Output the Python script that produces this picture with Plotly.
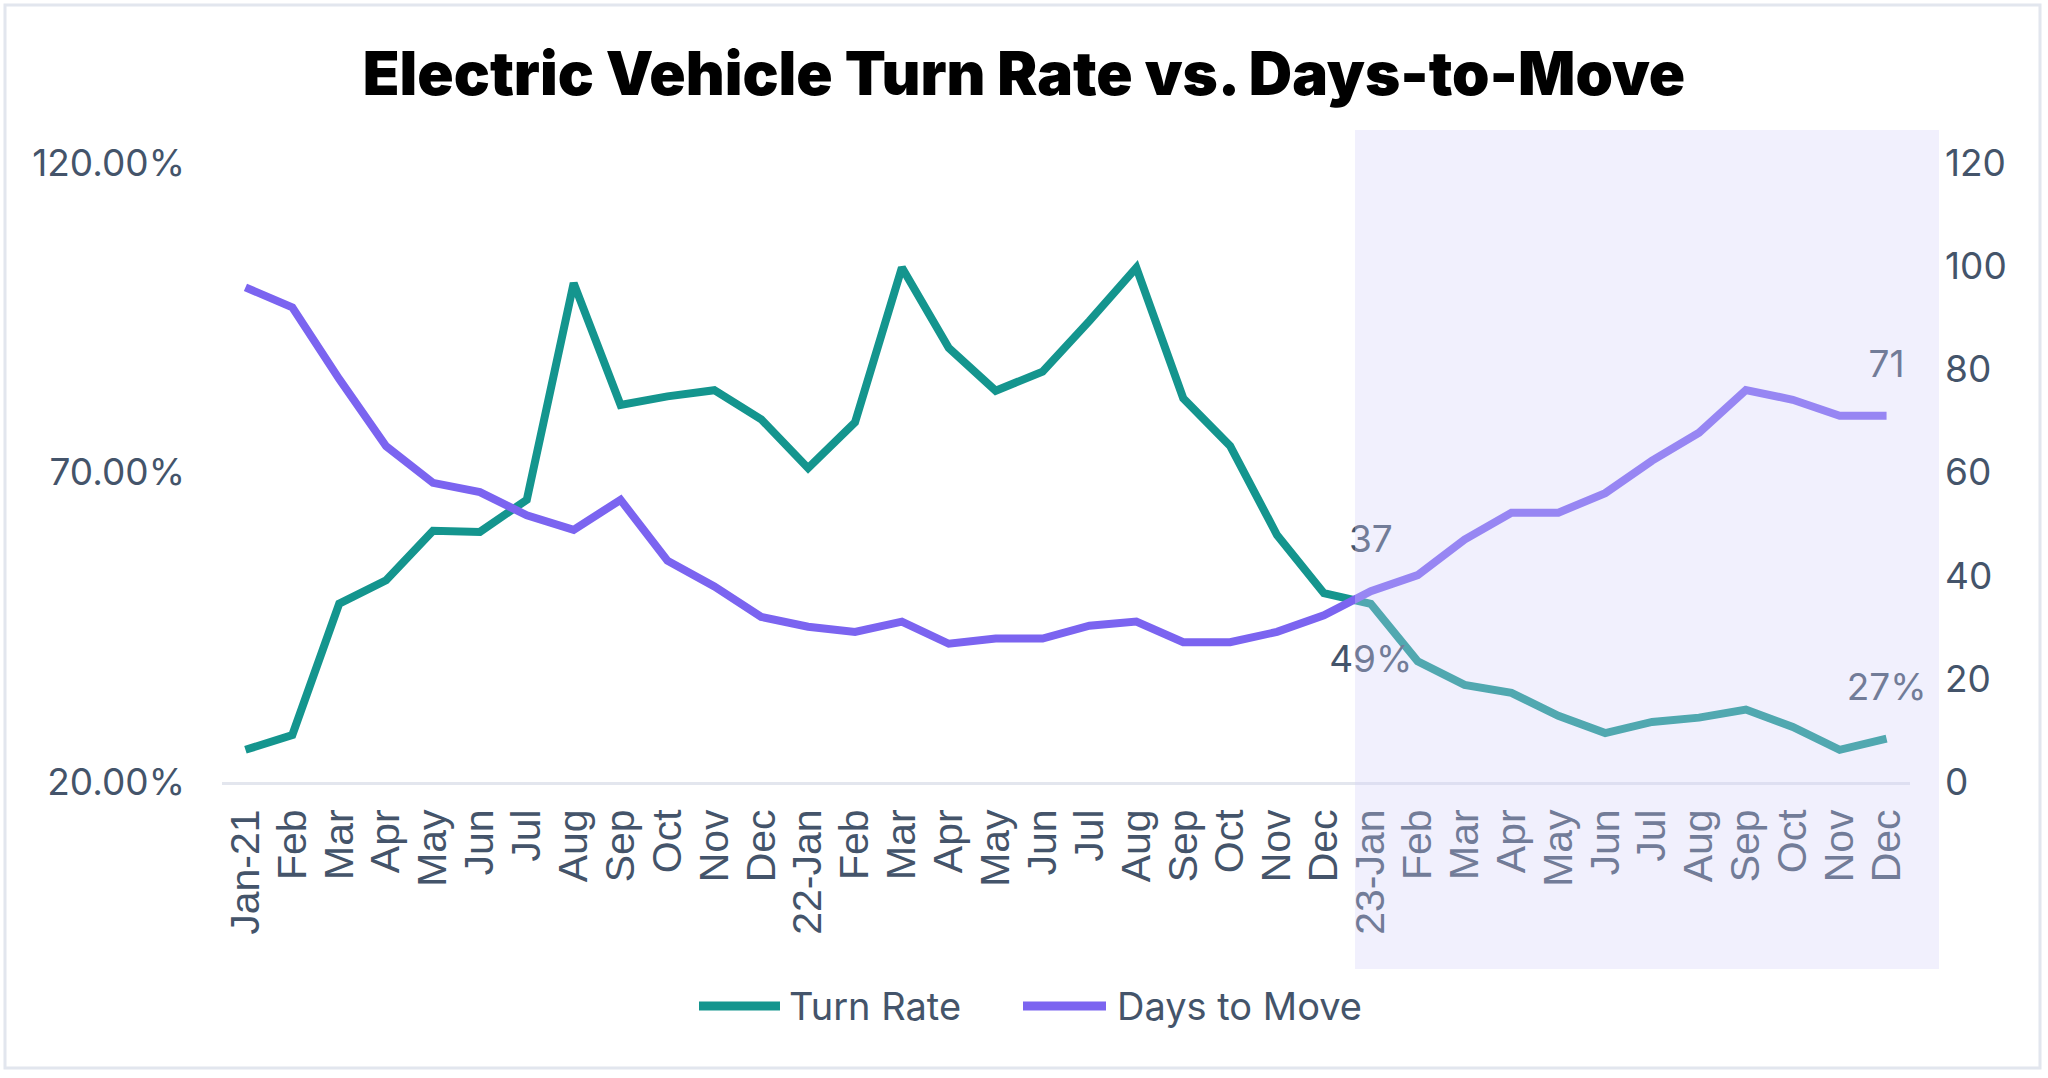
import plotly.graph_objects as go

months = ["Jan-21", "Feb", "Mar", "Apr", "May", "Jun", "Jul", "Aug", "Sep", "Oct", "Nov", "Dec",
          "22-Jan", "Feb", "Mar", "Apr", "May", "Jun", "Jul", "Aug", "Sep", "Oct", "Nov", "Dec",
          "23-Jan", "Feb", "Mar", "Apr", "May", "Jun", "Jul", "Aug", "Sep", "Oct", "Nov", "Dec"]

turn_rate = [25.2, 27.6, 48.8, 52.6, 60.6, 60.4, 65.6, 100.6, 80.9, 82.3, 83.3, 78.6,
             70.7, 78.1, 103.1, 90.1, 83.2, 86.3, 94.5, 103.1, 82.0, 74.3, 59.9, 50.5,
             48.8, 39.5, 35.7, 34.4, 30.7, 27.9, 29.7, 30.4, 31.7, 28.9, 25.2, 27.0]

days_to_move = [95.9, 92.0, 78.1, 65.1, 58.0, 56.2, 51.7, 48.9, 54.7, 42.9, 37.9, 32.0,
                30.1, 29.1, 31.1, 26.8, 27.8, 27.8, 30.3, 31.1, 27.1, 27.1, 29.1, 32.3,
                37.0, 40.1, 47.0, 52.2, 52.2, 56.0, 62.3, 67.7, 76.0, 74.1, 71.0, 71.0]

left_ticks = [20, 70, 120]
right_ticks = [0, 20, 40, 60, 80, 100, 120]

TEAL = "#14958E"
PURPLE = "#7B64F0"
TEXT = "#44546A"
FONT = "Inter"

x_idx = list(range(len(months)))

fig = go.Figure()
fig.add_trace(go.Scatter(x=x_idx, y=turn_rate, mode="lines", name="Turn Rate",
                         line=dict(color=TEAL, width=8), yaxis="y", hoverinfo="skip"))
fig.add_trace(go.Scatter(x=x_idx, y=days_to_move, mode="lines", name="Days to Move",
                         line=dict(color=PURPLE, width=8), yaxis="y2", hoverinfo="skip"))

# data labels (drawn as text traces so the shaded overlay sits above them)
i0, i1 = 24, len(months) - 1
lab_font = dict(family=FONT, size=37, color=TEXT)
fig.add_trace(go.Scatter(x=[i0, i1], y=[days_to_move[i0], days_to_move[i1]], yaxis="y2",
                         mode="markers+text", text=[f"{days_to_move[i0]:.0f}", f"{days_to_move[i1]:.0f}"],
                         textposition="top center", textfont=lab_font,
                         marker=dict(size=46, color="rgba(0,0,0,0)"), cliponaxis=False,
                         hoverinfo="skip", showlegend=False))
fig.add_trace(go.Scatter(x=[i0], y=[turn_rate[i0]], yaxis="y",
                         mode="markers+text", text=[f"{turn_rate[i0]:.0f}%"],
                         textposition="bottom center", textfont=lab_font,
                         marker=dict(size=63, color="rgba(0,0,0,0)"), cliponaxis=False,
                         hoverinfo="skip", showlegend=False))
fig.add_trace(go.Scatter(x=[i1], y=[turn_rate[i1]], yaxis="y",
                         mode="markers+text", text=[f"{turn_rate[i1]:.0f}%"],
                         textposition="top center", textfont=lab_font,
                         marker=dict(size=46, color="rgba(0,0,0,0)"), cliponaxis=False,
                         hoverinfo="skip", showlegend=False))

W, H = 2048, 1078
L, R, T, B = 222, 138, 163, 296
pw, ph = W - L - R, H - T - B

def px(xp):
    return (xp - L) / pw

def py(yp):
    return (H - B - yp) / ph

shapes = [
    # 2023 highlight overlay
    dict(type="rect", xref="paper", yref="paper", x0=px(1355), x1=px(1939), y0=py(969), y1=py(130),
         fillcolor="rgba(212,207,248,0.32)", line=dict(width=0), layer="above"),
    # outer border
    dict(type="rect", xref="paper", yref="paper", x0=px(5), x1=px(2040), y0=py(1068), y1=py(5),
         line=dict(color="#E2E6EE", width=3), fillcolor="rgba(0,0,0,0)", layer="below"),
    # custom legend lines
    dict(type="line", xref="paper", yref="paper", x0=px(699), x1=px(780), y0=py(1006), y1=py(1006),
         line=dict(color=TEAL, width=9)),
    dict(type="line", xref="paper", yref="paper", x0=px(1023), x1=px(1106), y0=py(1006), y1=py(1006),
         line=dict(color=PURPLE, width=9)),
]

annotations = [
    dict(text="Turn Rate", xref="paper", yref="paper", x=px(787), y=py(1006), xanchor="left", yanchor="middle",
         showarrow=False, font=dict(family=FONT, size=38, color=TEXT)),
    dict(text="Days to Move", xref="paper", yref="paper", x=px(1115), y=py(1006), xanchor="left", yanchor="middle",
         showarrow=False, font=dict(family=FONT, size=38, color=TEXT)),
]

fig.update_layout(
    width=W, height=H,
    margin=dict(l=L, r=R, t=T, b=B),
    paper_bgcolor="white", plot_bgcolor="white",
    showlegend=False,
    title=dict(text="Electric Vehicle Turn Rate vs. Days-to-Move", x=0.5, xanchor="center",
               y=1 - 74 / H, yanchor="middle",
               font=dict(family=FONT, size=60, color="black", weight=900)),
    xaxis=dict(range=[-0.5, len(months) - 0.5], tickmode="array", tickvals=x_idx, ticktext=months,
               tickangle=-90, tickfont=dict(family="Liberation Sans, Arial", size=41, color=TEXT),
               showgrid=False, zeroline=False, showline=True, linecolor="#E3E6EE", linewidth=3,
               ticks="", ticklabelstandoff=8),
    yaxis=dict(range=[20, 120], tickmode="array", tickvals=left_ticks,
               ticktext=[f"{v:.2f}%" for v in left_ticks],
               tickfont=dict(family=FONT, size=37, color=TEXT), showgrid=False, zeroline=False,
               showline=False, ticks="", ticklabelstandoff=36),
    yaxis2=dict(range=[0, 120], tickmode="array", tickvals=right_ticks, overlaying="y", side="right",
                tickfont=dict(family=FONT, size=37, color=TEXT), showgrid=False, zeroline=False,
                showline=False, ticks="", ticklabelstandoff=34),
    shapes=shapes,
    annotations=annotations,
)

fig.write_html("out.html", config={"displayModeBar": False},
               post_script="document.body.style.margin='0';document.body.style.overflow='hidden';")
